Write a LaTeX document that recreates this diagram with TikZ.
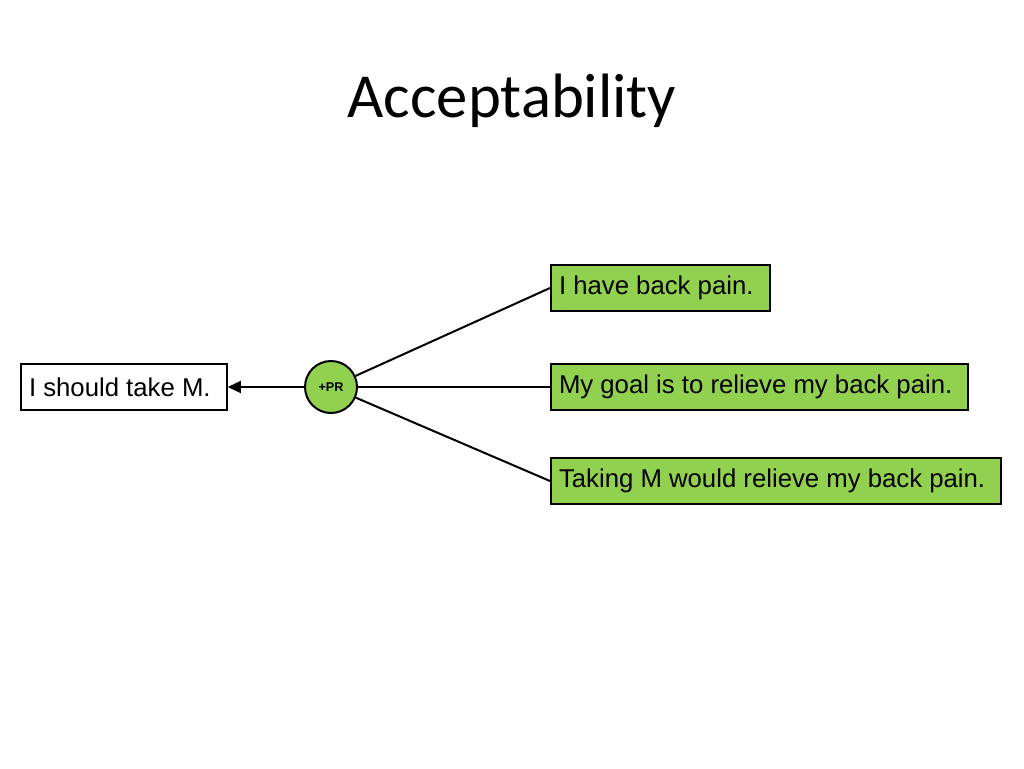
\documentclass[tikz,border=0pt]{standalone}
\usepackage{fontspec}
\setmainfont{Liberation Sans}
\newfontfamily\titlefont{Carlito}
\usetikzlibrary{arrows.meta}
\definecolor{premgreen}{RGB}{146,208,80}

\begin{document}
\begin{tikzpicture}[x=0.75pt,y=-0.75pt,
        claim/.style={draw, line width=1.5pt, anchor=west, minimum height=35pt,
            inner xsep=6pt, execute at end node={\hspace*{6pt}},
            font=\fontsize{19.3}{22}\selectfont},
        premise/.style={claim, fill=premgreen},
        support/.style={draw, circle, line width=1.5pt, fill=premgreen,
            minimum size=39pt, inner sep=0pt, font=\fontsize{9.5}{11}\selectfont\bfseries}]
        \useasboundingbox (0,0) rectangle (1024,768);
        \node[font=\titlefont\fontsize{47}{56}\selectfont, anchor=base] (title) at (512,117) {Acceptability};
        % conclusion and the rule node
        \node[claim] (concl) at (20,387) {I should take M.};
        \node[support] (pr) at (331,387) {+PR};
        % premises
        \foreach \n/\y/\t in {p1/288/I have back pain.,
                              p2/387/My goal is to relieve my back pain.,
                              p3/481/Taking M would relieve my back pain.} {
            \node[premise] (\n) at (550,\y) {\t};
            \draw[line width=1.5pt] (pr) -- (\n.west);
        }
        \draw[line width=1.5pt, -{Triangle[length=10pt,width=9pt]}] (pr) -- (concl);
\end{tikzpicture}
\end{document}
